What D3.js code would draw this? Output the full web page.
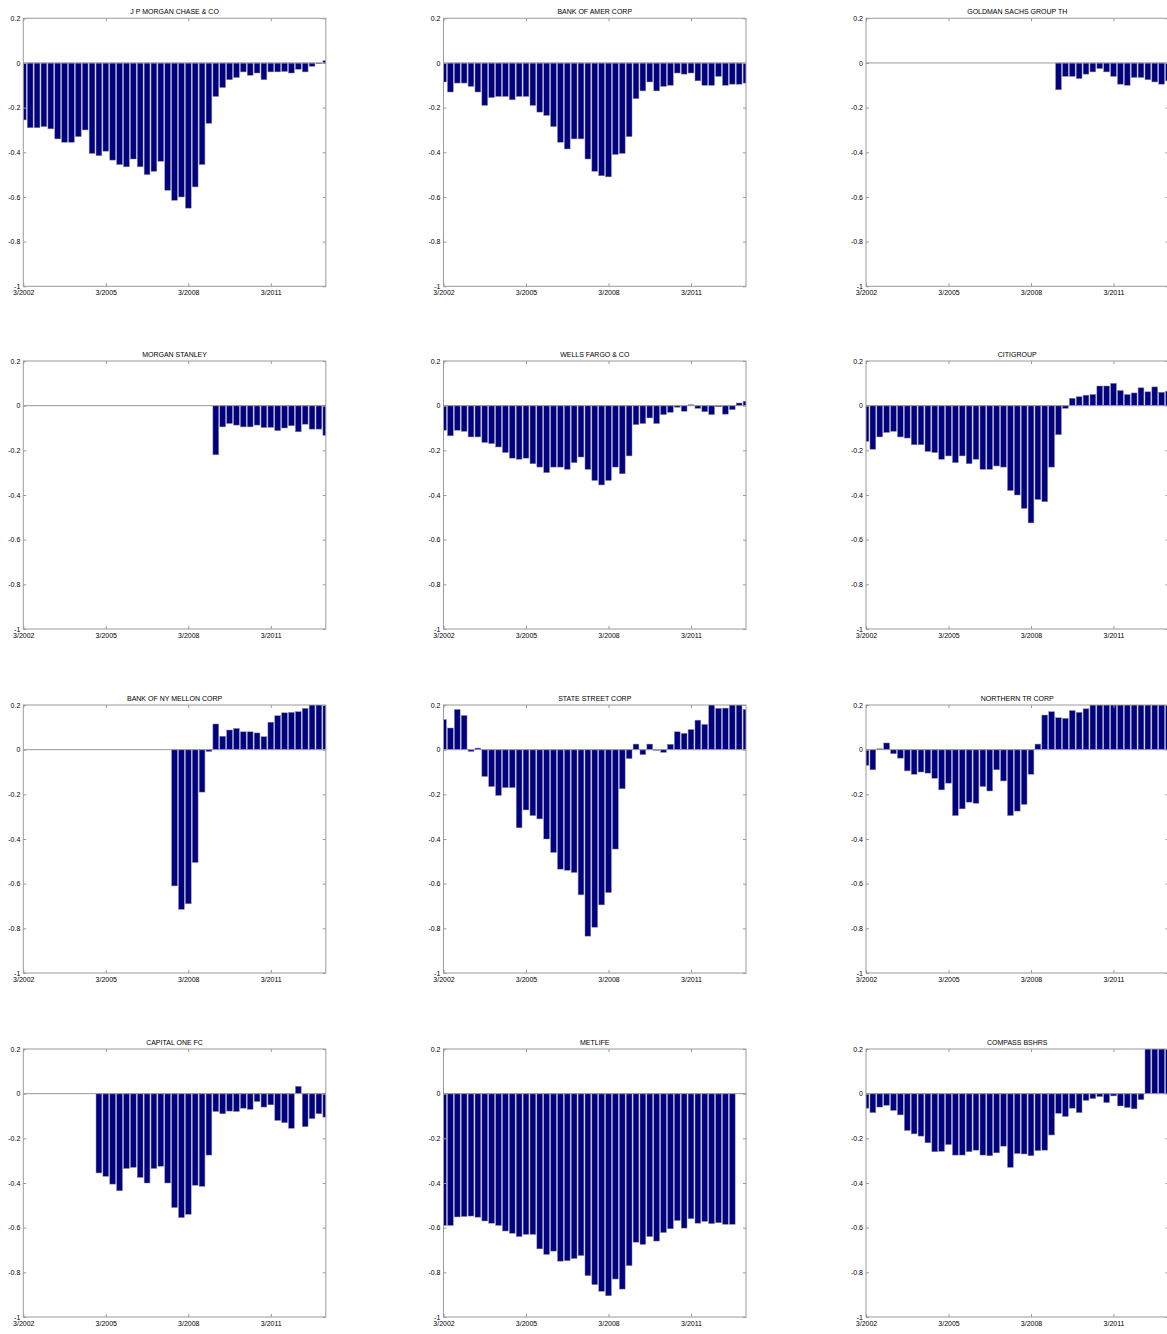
<!DOCTYPE html>
<html>
<head>
<meta charset="utf-8">
<title>Bank panels</title>
<style>
  body { margin: 0; background: #fff; }
  text { font-family: "Liberation Sans", Arial, sans-serif; fill: #000; }
</style>
</head>
<body>
<script src="https://cdn.jsdelivr.net/npm/d3@7"></script>
<script>
// panel titles
const titles = [
  "J P MORGAN CHASE & CO", "BANK OF AMER CORP", "GOLDMAN SACHS GROUP TH",
  "MORGAN STANLEY", "WELLS FARGO & CO", "CITIGROUP",
  "BANK OF NY MELLON CORP", "STATE STREET CORP", "NORTHERN TR CORP",
  "CAPITAL ONE FC", "METLIFE", "COMPASS BSHRS"
];

// quarter index (0 = 3/2002) of the first value in each series
const firstQuarter = [0, 0, 28, 28, 0, 0, 22, 0, 0, 11, 0, 0];

// quarterly values
const jpm = [-0.255,-0.29,-0.29,-0.285,-0.295,-0.34,-0.355,-0.355,-0.33,-0.30,
  -0.405,-0.415,-0.395,-0.435,-0.455,-0.465,-0.43,-0.465,-0.50,-0.485,
  -0.44,-0.57,-0.615,-0.60,-0.65,-0.555,-0.455,-0.27,-0.15,-0.11,
  -0.075,-0.065,-0.04,-0.055,-0.045,-0.075,-0.04,-0.04,-0.038,-0.045,
  -0.028,-0.04,-0.015,-0.003,0.01];
const bac = [-0.085,-0.13,-0.09,-0.09,-0.105,-0.13,-0.19,-0.155,-0.15,-0.15,
  -0.165,-0.15,-0.15,-0.19,-0.22,-0.235,-0.285,-0.355,-0.385,-0.34,
  -0.34,-0.43,-0.485,-0.505,-0.51,-0.41,-0.405,-0.33,-0.16,-0.125,
  -0.085,-0.125,-0.105,-0.10,-0.045,-0.05,-0.045,-0.08,-0.10,-0.10,
  -0.06,-0.10,-0.095,-0.095,-0.09];
const gs = [-0.12,-0.06,-0.06,-0.07,-0.05,-0.04,-0.025,-0.04,-0.06,-0.095,
  -0.10,-0.065,-0.065,-0.075,-0.085,-0.095,-0.08];
const ms = [-0.22,-0.095,-0.08,-0.087,-0.095,-0.095,-0.087,-0.098,-0.097,-0.112,
  -0.10,-0.09,-0.117,-0.083,-0.105,-0.105,-0.133];
const wfc = [-0.11,-0.135,-0.11,-0.115,-0.14,-0.14,-0.165,-0.17,-0.185,-0.21,
  -0.235,-0.24,-0.235,-0.26,-0.275,-0.30,-0.275,-0.275,-0.285,-0.255,
  -0.23,-0.285,-0.335,-0.355,-0.335,-0.275,-0.305,-0.225,-0.085,-0.08,
  -0.055,-0.08,-0.04,-0.03,-0.007,-0.025,0.004,-0.012,-0.027,-0.04,
  -0.005,-0.038,-0.018,0.012,0.02];
const citi = [-0.16,-0.195,-0.14,-0.12,-0.115,-0.14,-0.145,-0.175,-0.175,-0.205,
  -0.21,-0.24,-0.225,-0.255,-0.225,-0.26,-0.24,-0.285,-0.285,-0.27,
  -0.275,-0.38,-0.40,-0.46,-0.525,-0.42,-0.43,-0.275,-0.13,-0.012,
  0.033,0.04,0.047,0.05,0.088,0.088,0.10,0.068,0.05,0.057,
  0.08,0.062,0.084,0.06,0.065];
const bny = [-0.61,-0.715,-0.69,-0.505,-0.19,-0.008,0.115,0.06,0.088,0.095,
  0.08,0.08,0.075,0.058,0.123,0.152,0.165,0.167,0.17,0.185,
  0.21,0.22,0.23];
const stt = [0.135,0.097,0.18,0.153,-0.008,0.007,-0.12,-0.165,-0.205,-0.17,
  -0.17,-0.35,-0.27,-0.295,-0.31,-0.40,-0.46,-0.535,-0.54,-0.55,
  -0.65,-0.835,-0.795,-0.695,-0.64,-0.445,-0.175,-0.04,0.025,-0.022,
  0.025,-0.003,-0.012,0.024,0.08,0.073,0.09,0.132,0.113,0.21,
  0.185,0.186,0.215,0.22,0.18];
const ntrs = [-0.07,-0.09,0.004,0.03,-0.018,-0.038,-0.095,-0.11,-0.10,-0.105,
  -0.128,-0.18,-0.15,-0.295,-0.265,-0.235,-0.24,-0.165,-0.185,-0.09,
  -0.14,-0.295,-0.275,-0.245,-0.11,0.025,0.155,0.17,0.143,0.14,
  0.175,0.167,0.183,0.21,0.22,0.23,0.22,0.24,0.25,0.24,
  0.25,0.26,0.25,0.26,0.27];
const cof = [-0.355,-0.37,-0.405,-0.435,-0.335,-0.33,-0.375,-0.40,-0.335,-0.325,
  -0.40,-0.51,-0.555,-0.54,-0.41,-0.415,-0.275,-0.08,-0.09,-0.078,
  -0.08,-0.065,-0.07,-0.035,-0.06,-0.05,-0.12,-0.13,-0.155,0.033,
  -0.148,-0.112,-0.09,-0.105];
const met = [-0.59,-0.59,-0.552,-0.55,-0.548,-0.553,-0.57,-0.58,-0.59,-0.615,
  -0.625,-0.64,-0.63,-0.63,-0.695,-0.72,-0.705,-0.75,-0.748,-0.738,
  -0.725,-0.815,-0.855,-0.885,-0.905,-0.83,-0.875,-0.77,-0.665,-0.675,
  -0.64,-0.66,-0.622,-0.605,-0.568,-0.602,-0.56,-0.58,-0.572,-0.582,
  -0.578,-0.585,-0.585];
const cbsh = [-0.065,-0.085,-0.06,-0.052,-0.075,-0.095,-0.165,-0.18,-0.19,-0.22,
  -0.26,-0.258,-0.228,-0.275,-0.275,-0.26,-0.253,-0.275,-0.278,-0.265,
  -0.235,-0.33,-0.268,-0.27,-0.278,-0.255,-0.253,-0.185,-0.088,-0.102,
  -0.065,-0.085,-0.03,-0.022,-0.013,-0.04,-0.01,-0.055,-0.062,-0.068,
  -0.027,0.45,0.5,0.48,0.5];

const series = [jpm, bac, gs, ms, wfc, citi, bny, stt, ntrs, cof, met, cbsh];

// axis ticks
const xTickQuarters = [0, 12, 24, 36];
const xTickLabels = ["3/2002", "3/2005", "3/2008", "3/2011"];
const yTicks = [-1, -0.8, -0.6, -0.4, -0.2, 0, 0.2];
const lastQuarter = 44;

// layout
let width = 1167, height = 1334;
let colLeft = [23.3, 443.5, 866];
let rowTop = [18.3, 361, 705, 1049];
let pw = 302.5, ph = 268;

let svg = d3.select('body').append('svg').attr('width', width).attr('height', height);

let x = d3.scaleLinear().domain([0, lastQuarter]).range([0, pw]);
let y = d3.scaleLinear().domain([-1, 0.2]).range([ph, 0]);
let step = x(1) - x(0);
let barW = step * 0.84;

series.forEach(function(vals, k) {
    let g = svg.append('g')
        .attr('transform', 'translate(' + colLeft[k % 3] + ',' + rowTop[Math.floor(k / 3)] + ')');

    let clipId = 'clip' + k;
    g.append('clipPath').attr('id', clipId)
        .append('rect').attr('width', pw).attr('height', ph);

    // bars
    let data = vals.map(function(v, i) { return { q: firstQuarter[k] + i, v: v }; });
    g.append('g').attr('clip-path', 'url(#' + clipId + ')')
        .selectAll('rect')
        .data(data)
        .enter()
        .append('rect')
        .attr('x', function(d) { return x(d.q) - barW / 2; })
        .attr('y', function(d) { return y(Math.max(0, d.v)); })
        .attr('width', barW)
        .attr('height', function(d) { return Math.abs(y(d.v) - y(0)); })
        .attr('fill', '#000080')
        .attr('stroke', '#8a8a99')
        .attr('stroke-width', 0.5);

    // baseline
    g.append('line')
        .attr('x1', 0).attr('x2', pw)
        .attr('y1', y(0)).attr('y2', y(0))
        .attr('stroke', '#9a9a9a').attr('stroke-width', 1);

    // inward ticks on all four sides
    let tk = 3;
    let xb = g.append('g').attr('transform', 'translate(0,' + ph + ')')
        .call(d3.axisBottom(x).tickValues(xTickQuarters)
            .tickFormat(function(d, i) { return xTickLabels[i]; })
            .tickSizeInner(-tk).tickSizeOuter(0).tickPadding(4));
    g.append('g')
        .call(d3.axisTop(x).tickValues(xTickQuarters).tickFormat('')
            .tickSizeInner(-tk).tickSizeOuter(0));
    let yl = g.append('g')
        .call(d3.axisLeft(y).tickValues(yTicks).tickFormat(function(d) { return String(d); })
            .tickSizeInner(-tk).tickSizeOuter(0).tickPadding(3));
    g.append('g').attr('transform', 'translate(' + pw + ',0)')
        .call(d3.axisRight(y).tickValues(yTicks).tickFormat('')
            .tickSizeInner(-tk).tickSizeOuter(0));

    g.selectAll('.domain').remove();
    g.selectAll('.tick line').attr('stroke', '#9a9a9a');
    g.selectAll('.tick text').attr('font-size', 7).attr('font-family', '"Liberation Sans", Arial, sans-serif');

    // box
    g.append('rect')
        .attr('width', pw).attr('height', ph)
        .attr('fill', 'none').attr('stroke', '#9a9a9a').attr('stroke-width', 1);

    // title
    g.append('text')
        .attr('x', pw / 2).attr('y', -4.5)
        .attr('text-anchor', 'middle')
        .attr('font-size', 7)
        .text(titles[k]);
});
</script>
</body>
</html>
